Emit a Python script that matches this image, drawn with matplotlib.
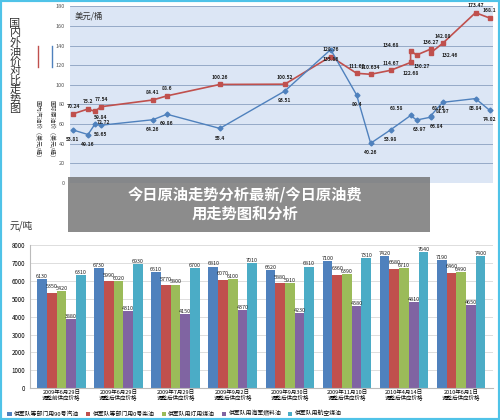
import numpy as np
import matplotlib.pyplot as plt
from matplotlib.patches import Rectangle

plt.rcParams['font.family'] = ['Noto Sans CJK SC', 'DejaVu Sans']

# top chart: domestic vs international oil price (USD / barrel)
dom_x = [0, 15, 22, 28, 80, 94, 147, 212, 258, 284, 298, 318, 338, 338, 344, 358, 358, 370, 403, 417]
dom_y = [70.24, 75.2, 72.72, 77.54, 84.41, 88.6, 100.26, 100.52, 128.76, 111.62, 110.634,
         114.67, 122.68, 134.68, 130.27, 136.27, 132.46, 142.08, 173.47, 168.1]
intl_x = [0, 15, 22, 28, 80, 94, 147, 212, 258, 284, 298, 318, 338, 344, 358, 358, 370, 403, 417]
intl_y = [53.81, 49.16, 59.84, 58.65, 64.26, 69.86, 55.4, 93.51, 135.86, 89.4, 40.26,
          53.98, 68.58, 63.97, 66.84, 68.05, 81.97, 85.84, 74.02]

# bottom chart: military supply prices (yuan / ton)
groups = ["2009年6月29日\n调整前供应价格", "2009年6月29日\n调整后供应价格", "2009年7月29日\n调整后供应价格",
          "2009年9月2日\n调整后供应价格", "2009年9月30日\n调整后供应价格", "2009年11月10日\n调整后供应价格",
          "2010年4月14日\n调整后供应价格", "2010年6月1日\n调整后供应价格"]
series_names = ["供军队等部门用90号汽油", "供军队等部门用0号柴油", "供军队用灯用煤油", "供军队用海军燃料油", "供军队用航空煤油"]
gasoline = [6130, 6730, 6510, 6810, 6620, 7100, 7420, 7190]
diesel = [5350, 5990, 5770, 6070, 5880, 6360, 6680, 6460]
kerosene = [5420, 6020, 5800, 6100, 5910, 6390, 6710, 6490]
fuel_oil = [3880, 4310, 4150, 4370, 4230, 4580, 4810, 4650]
jet = [6310, 6930, 6700, 7010, 6810, 7310, 7640, 7400]

# label offsets (points) for the crowded line labels
dom_off = {2: (6, -9), 12: (0, -9), 13: (-14, 3), 14: (4, -9), 15: (0, 4), 16: (14, -3)}
intl_off = {2: (4, 4), 12: (-10, 4), 13: (2, -8), 14: (4, -8), 15: (6, 4)}

fig = plt.figure(figsize=(5, 4.2), dpi=100)
fig.patch.set_facecolor('white')
fig.add_artist(Rectangle((0, 0), 1, 1, transform=fig.transFigure, fill=False,
                         edgecolor='#4fc3e8', linewidth=3))

# ---- top line chart
ax1 = fig.add_axes([0.14, 0.565, 0.845, 0.42])
ax1.set_facecolor('#dce6f5')
ax1.plot(dom_x, dom_y, color='#c0504d', marker='s', markersize=3.5, linewidth=1.2)
ax1.plot(intl_x, intl_y, color='#4f81bd', marker='D', markersize=2.5, linewidth=1.0)
for i, (x, y) in enumerate(zip(dom_x, dom_y)):
    ax1.annotate(f"{y:g}", (x, y), xytext=dom_off.get(i, (0, 4)), textcoords='offset points',
                 fontsize=3.6, fontweight='bold', ha='center', color='#222222')
for i, (x, y) in enumerate(zip(intl_x, intl_y)):
    ax1.annotate(f"{y:g}", (x, y), xytext=intl_off.get(i, (0, -8)), textcoords='offset points',
                 fontsize=3.6, fontweight='bold', ha='center', color='#222222')
ax1.set_ylim(0, 180)
ax1.set_xlim(-3, 420)
ax1.set_yticks(range(0, 181, 20))
ax1.tick_params(labelsize=4, length=0, colors='#555555')
ax1.set_xticks([])
ax1.grid(axis='y', color='#8aa0c0', linewidth=0.6)
for s in ax1.spines.values():
    s.set_visible(False)
ax1.text(0.01, 0.97, "美元/桶", transform=ax1.transAxes, fontsize=6, va='top', color='#333333')

fig.text(0.03, 0.955, "国\n内\n外\n油\n价\n对\n比\n走\n势\n图", fontsize=8, va='top',
         ha='center', linespacing=0.92, color='#333333')
fig.text(0.068, 0.69, "国内汽油价（美元/桶）", fontsize=4.2, rotation=270, va='center', color='#333333')
fig.text(0.096, 0.69, "国际原油价（美元/桶）", fontsize=4.2, rotation=270, va='center', color='#333333')
fig.lines.append(plt.Line2D([0.075, 0.075], [0.84, 0.89], transform=fig.transFigure, color='#c0504d', lw=1))
fig.lines.append(plt.Line2D([0.103, 0.103], [0.84, 0.89], transform=fig.transFigure, color='#4f81bd', lw=1))

# ---- bottom bar chart
ax2 = fig.add_axes([0.06, 0.076, 0.925, 0.34])
x = np.arange(len(groups))
w = 0.17
colors = ['#4f81bd', '#c0504d', '#9bbb59', '#8064a2', '#4bacc6']
for i, (vals, c, name) in enumerate(zip([gasoline, diesel, kerosene, fuel_oil, jet], colors, series_names)):
    pos = x + (i - 2) * w
    ax2.bar(pos, vals, w, color=c, edgecolor='none', label=name)
    for p, v in zip(pos, vals):
        dy = 250 if i == 1 else 60
        ax2.text(p, v + dy, str(v), fontsize=3.9, ha='center', color='#222222')
ax2.set_ylim(0, 8000)
ax2.set_xlim(-0.55, 7.55)
ax2.set_yticks(range(0, 8001, 1000))
ax2.set_xticks(x)
ax2.set_xticklabels(groups, fontsize=4.0, linespacing=1.0)
ax2.tick_params(axis='y', labelsize=4.5, length=0)
ax2.tick_params(axis='x', length=0, pad=1)
ax2.grid(axis='y', color='#d0d0d0', linewidth=0.5)
ax2.set_axisbelow(True)
for s in ['top', 'right']:
    ax2.spines[s].set_visible(False)
ax2.spines['left'].set_color('#bbbbbb')
ax2.spines['bottom'].set_color('#bbbbbb')
ax2.legend(loc='upper left', bbox_to_anchor=(-0.06, -0.12), ncol=5, fontsize=4.2, frameon=False,
           handlelength=0.7, columnspacing=1.2, handletextpad=0.4)
fig.text(0.02, 0.455, "元/吨", fontsize=7, color='#333333')

# ---- title banner
fig.add_artist(Rectangle((0.135, 0.448), 0.725, 0.13, transform=fig.transFigure,
                         facecolor='#707070', alpha=0.8, edgecolor='none'))
fig.text(0.49, 0.513, "今日原油走势分析最新/今日原油费\n用走势图和分析", fontsize=11, fontweight='bold',
         color='white', ha='center', va='center', linespacing=1.25)

fig.savefig('out.png', dpi=100)
